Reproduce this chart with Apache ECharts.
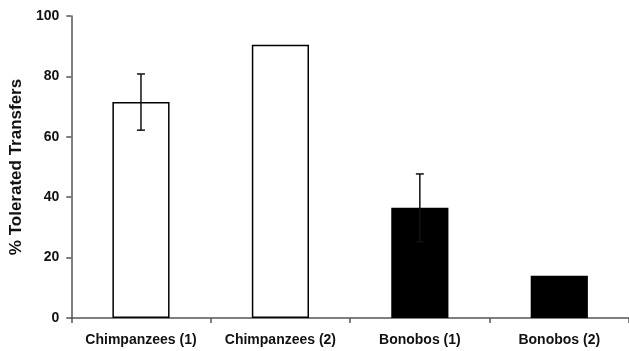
<!DOCTYPE html>
<html>
<head>
<meta charset="utf-8">
<script src="https://cdn.jsdelivr.net/npm/echarts@6/dist/echarts.min.js"></script>
<style>html,body{margin:0;padding:0;background:#fff;}#c{width:629px;height:351px;}</style>
</head>
<body>
<div id="c"></div>
<script>
var categories = ['Chimpanzees (1)', 'Chimpanzees (2)', 'Bonobos (1)', 'Bonobos (2)'];
var values = [71.5, 90.5, 36.5, 14.0];
var errors = [9.3, 0, 11.2, 0];
var fills = ['#ffffff', '#ffffff', '#000000', '#000000'];
var yTicks = [0, 20, 40, 60, 80, 100];

var chart = echarts.init(document.getElementById('c'));
var axisColor = '#555';
chart.setOption({
  animation: false,
  grid: {left: 70, right: 0, top: 16, bottom: 33, containLabel: false},
  xAxis: {
    type: 'category',
    data: categories,
    axisLine: {lineStyle: {color: axisColor, width: 1.5}},
    axisTick: {show: true, interval: 0, length: 5, lineStyle: {color: axisColor, width: 1.5}},
    axisLabel: {interval: 0, color: '#111', fontFamily: 'Liberation Sans', fontWeight: 'bold', fontSize: 14, margin: 15}
  },
  yAxis: {
    type: 'value',
    min: yTicks[0], max: yTicks[yTicks.length - 1], interval: 20,
    name: '% Tolerated Transfers',
    nameLocation: 'middle',
    nameGap: 44,
    nameTextStyle: {color: '#111', fontFamily: 'Liberation Sans', fontWeight: 'bold', fontSize: 17},
    splitLine: {show: false},
    axisLine: {show: true, lineStyle: {color: axisColor, width: 1.5}},
    axisTick: {show: true, inside: false, length: 5, lineStyle: {color: axisColor, width: 1.5}},
    axisLabel: {color: '#111', fontFamily: 'Liberation Sans', fontWeight: 'bold', fontSize: 14, margin: 12}
  },
  series: [
    {
      type: 'bar',
      barWidth: '41%',
      data: values.map(function (v, i) {
        return {value: v, itemStyle: {color: fills[i], borderColor: '#000', borderWidth: 1.5}};
      }),
      z: 2
    },
    {
      type: 'custom',
      z: 3,
      data: values.map(function (v, i) { return [i, v, errors[i]]; }),
      renderItem: function (params, api) {
        var i = api.value(0), v = api.value(1), e = api.value(2);
        if (!e) return null;
        var top = api.coord([i, v + e]);
        var bot = api.coord([i, v - e]);
        var cap = 4;
        var st = {stroke: '#111', lineWidth: 1.5};
        return {
          type: 'group',
          children: [
            {type: 'line', shape: {x1: top[0], y1: top[1], x2: bot[0], y2: bot[1]}, style: st},
            {type: 'line', shape: {x1: top[0] - cap, y1: top[1], x2: top[0] + cap, y2: top[1]}, style: st},
            {type: 'line', shape: {x1: bot[0] - cap, y1: bot[1], x2: bot[0] + cap, y2: bot[1]}, style: st}
          ]
        };
      }
    }
  ]
});
</script>
</body>
</html>
